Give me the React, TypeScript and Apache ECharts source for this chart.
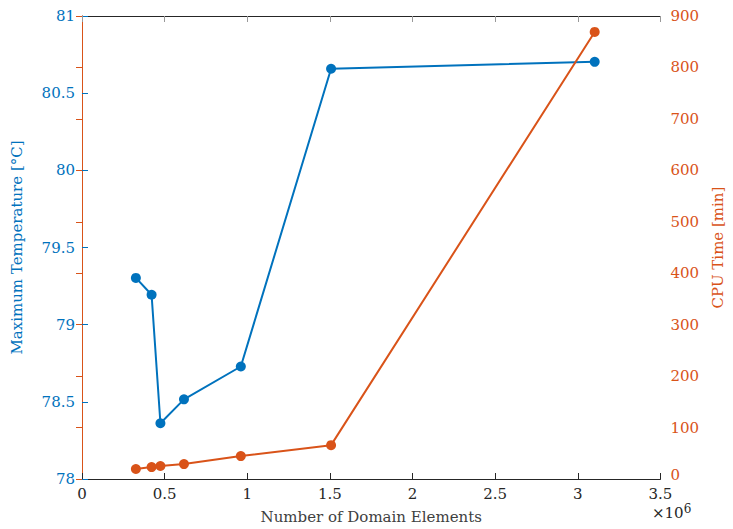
import React, { useEffect, useRef } from "react";
import * as echarts from "echarts";

const elements = [0.326e6, 0.421e6, 0.4745e6, 0.617e6, 0.961e6, 1.507e6, 3.102e6];
const maxTemp = [79.303, 79.194, 78.361, 78.516, 78.729, 80.658, 80.703];
const cpuTime = [19.4, 23.2, 25.2, 29, 44.5, 65.8, 869];

const BLUE = "#0072BD";
const ORANGE = "#D95319";
const FONT = "DejaVu Serif";
const FS = 15;

export default function App() {
  const ref = useRef<HTMLDivElement>(null);
  useEffect(() => {
    const chart = echarts.init(ref.current!, null, { renderer: "svg" });
    chart.setOption({
      animation: false,
      textStyle: { fontFamily: FONT },
      grid: { left: 82, right: 61, top: 16, bottom: 48 },
      xAxis: [
        {
          type: "value",
          min: 0,
          max: 3.5e6,
          interval: 0.5e6,
          position: "bottom",
          name: "Number of Domain Elements",
          nameLocation: "middle",
          nameGap: 30,
          nameTextStyle: { color: "#404040", fontSize: FS, fontFamily: FONT },
          axisLine: { show: true, lineStyle: { color: "#262626", width: 1 } },
          axisTick: { show: true, inside: true, length: 6, lineStyle: { color: "#262626" } },
          axisLabel: {
            color: "#262626",
            fontSize: FS,
            fontFamily: FONT,
            margin: 7,
            formatter: (v: number) => String(v / 1e6),
          },
          splitLine: { show: false },
        },
        {
          type: "value",
          min: 0,
          max: 3.5e6,
          interval: 0.5e6,
          position: "top",
          axisLine: { show: true, lineStyle: { color: "#262626", width: 1 } },
          axisTick: { show: true, inside: true, length: 6, lineStyle: { color: "#999999" } },
          axisLabel: { show: false },
          splitLine: { show: false },
        },
      ],
      yAxis: [
        {
          type: "value",
          min: 78,
          max: 81,
          interval: 0.5,
          position: "left",
          name: "Maximum Temperature [°C]",
          nameLocation: "middle",
          nameGap: 58,
          nameRotate: 90,
          nameTextStyle: { color: BLUE, fontSize: FS, fontFamily: FONT },
          axisLine: { show: true, lineStyle: { color: BLUE, width: 1 } },
          axisTick: { show: true, inside: true, length: 6, lineStyle: { color: BLUE } },
          axisLabel: { color: BLUE, fontSize: FS, fontFamily: FONT, margin: 7 },
          splitLine: { show: false },
        },
        {
          type: "value",
          min: 0,
          max: 900,
          interval: 100,
          position: "right",
          name: "CPU Time [min]",
          nameLocation: "middle",
          nameGap: 48,
          nameRotate: 90,
          nameTextStyle: { color: ORANGE, fontSize: FS, fontFamily: FONT },
          axisLine: { show: true, lineStyle: { color: ORANGE, width: 1 } },
          axisTick: { show: true, inside: true, length: 6, lineStyle: { color: ORANGE } },
          axisLabel: {
            color: ORANGE,
            fontSize: FS,
            fontFamily: FONT,
            margin: 10,
            formatter: (v: number) => (v === 0 ? "{z|0}" : String(v)),
            rich: { z: { color: ORANGE, fontSize: FS, fontFamily: FONT, padding: [0, 0, 8, 0] } },
          },
          splitLine: { show: false },
        },
      ],
      graphic: [
        {
          type: "text",
          left: 652,
          top: 503,
          style: {
            text: "×10{sup|6}",
            fill: "#262626",
            font: `${FS}px "${FONT}"`,
            rich: {
              sup: { fontSize: 12, fontFamily: FONT, fill: "#262626", verticalAlign: "top", padding: [0, 0, 7, 0] },
            },
          },
        },
      ],
      series: [
        {
          type: "line",
          xAxisIndex: 0,
          yAxisIndex: 0,
          data: elements.map((x, i) => [x, maxTemp[i]]),
          symbol: "circle",
          symbolSize: 10,
          lineStyle: { color: BLUE, width: 2 },
          itemStyle: { color: BLUE },
        },
        {
          type: "line",
          xAxisIndex: 0,
          yAxisIndex: 1,
          data: elements.map((x, i) => [x, cpuTime[i]]),
          symbol: "circle",
          symbolSize: 10,
          lineStyle: { color: ORANGE, width: 2 },
          itemStyle: { color: ORANGE },
        },
      ],
    });
    return () => chart.dispose();
  }, []);
  return <div ref={ref} style={{ width: 733, height: 529, position: "absolute", left: 0, top: 0, background: "#fff" }} />;
}
